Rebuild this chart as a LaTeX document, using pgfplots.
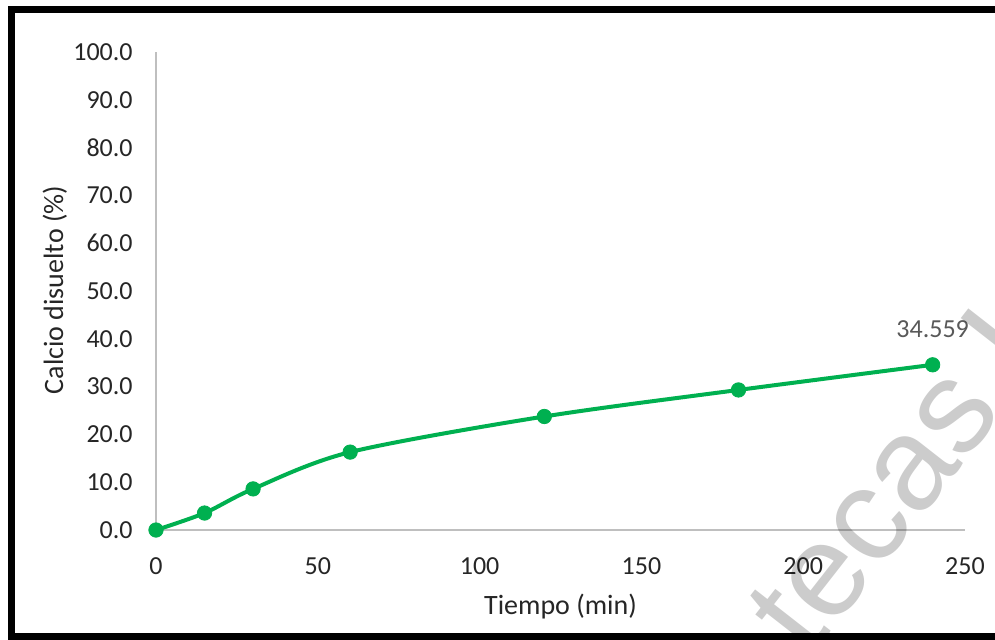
\documentclass[border=0pt]{standalone}
\usepackage{pgfplots}
\pgfplotsset{compat=1.18}
\usepackage{fontspec}
\setmainfont{Carlito}
\newfontfamily\wmfont{Liberation Sans}
\definecolor{lgreen}{HTML}{00B050}
\definecolor{axgray}{HTML}{BFBFBF}
\definecolor{txt}{HTML}{262626}
\definecolor{lbl}{HTML}{595959}
\begin{document}
\fontsize{13}{15}\selectfont
\begin{tikzpicture}
\useasboundingbox (0pt,0pt) rectangle (497.5pt,319.5pt);
\clip (0pt,0pt) rectangle (497.5pt,319.5pt);
\fill[white] (0pt,0pt) rectangle (497.5pt,319.5pt);
\begin{axis}[
  at={(78pt,54.5pt)}, anchor=south west,
  scale only axis, width=404.5pt, height=239pt,
  xmin=0, xmax=250, ymin=0, ymax=100,
  xtick={0,50,...,250}, ytick={0,10,...,100},
  axis lines=left, axis line style={axgray, line width=0.9pt, -},
  major tick length=0pt,
  clip=false,
  /pgf/number format/assume math mode=true,
  yticklabel style={/pgf/number format/fixed, /pgf/number format/fixed zerofill, /pgf/number format/precision=1},
  yticklabel style={anchor=east, inner sep=0pt, xshift=-11.5pt, text=txt, font=\fontsize{13}{15}\selectfont},
  xticklabel style={anchor=center, inner sep=0pt, yshift=-18pt, text=txt, font=\fontsize{13}{15}\selectfont},
  xlabel={Tiempo (min)}, ylabel={Calcio disuelto (\%)},
  xlabel style={at={(axis description cs:0.5,-0.161)}, anchor=center, text=txt, font=\fontsize{14}{16}\selectfont},
  ylabel style={at={(axis description cs:-0.125,0.502)}, anchor=center, text=txt, font=\fontsize{14}{16}\selectfont},
]
\addplot[lgreen, line width=2pt, smooth, tension=0.5, mark=*, mark size=3.6pt,
  mark options={fill=lgreen, draw=lgreen, line width=0.4pt}]
  coordinates {(0,0) (15,3.55) (30,8.6) (60,16.3) (120,23.75) (180,29.3) (240,34.559)};
\node[text=lbl, anchor=center, yshift=18pt, font=\fontsize{13}{15}\selectfont] at (axis cs:240,34.559) {34.559};
\end{axis}
\node[rotate=52, text=black, opacity=0.2, font=\wmfont\fontsize{66}{72}\selectfont, anchor=base west] at (402pt,-14pt) {tecas U};
\draw[line width=3.5pt] (5.5pt,1.5pt) rectangle (505pt,314.5pt);
\end{tikzpicture}
\end{document}
